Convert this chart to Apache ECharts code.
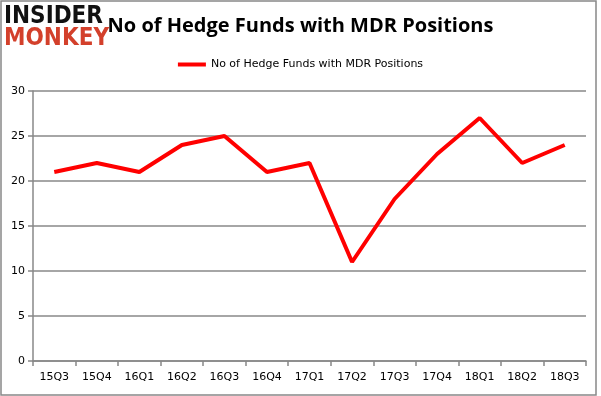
<!DOCTYPE html>
<html>
<head>
<meta charset="utf-8">
<script src="https://cdn.jsdelivr.net/npm/echarts@6/dist/echarts.min.js"></script>
<style>
  html, body { margin: 0; padding: 0; background: #fff; }
  #chart { width: 601px; height: 396px; }
</style>
</head>
<body>
<div id="chart"></div>
<script>
// data
var quarters = ['15Q3', '15Q4', '16Q1', '16Q2', '16Q3', '16Q4', '17Q1', '17Q2', '17Q3', '17Q4', '18Q1', '18Q2', '18Q3'];
var fundCounts = [21, 22, 21, 24, 25, 21, 22, 11, 18, 23, 27, 22, 24];
var seriesName = 'No of Hedge Funds with MDR Positions';

var chart = echarts.init(document.getElementById('chart'));

var option = {
  animation: false,
  title: {
    text: 'No of Hedge Funds with MDR Positions',
    left: 'center',
    top: 11,
    textStyle: {
      fontFamily: 'Open Sans',
      fontWeight: 'bold',
      fontSize: 20,
      color: '#000'
    }
  },
  legend: {
    data: [seriesName],
    top: 54,
    left: 'center',
    itemWidth: 28,
    itemHeight: 4,
    icon: 'rect',
    itemGap: 4,
    textStyle: {
      fontFamily: 'DejaVu Sans',
      fontSize: 11,
      color: '#000'
    }
  },
  graphic: [
    {
      // outer frame
      type: 'rect',
      shape: { x: 1, y: 1, width: 595, height: 394 },
      style: { fill: 'none', stroke: '#888', lineWidth: 1.5 }
    },
    {
      type: 'text',
      left: 4,
      top: 5,
      style: {
        text: 'INSIDER',
        font: 'bold 24px "DejaVu Sans Condensed"',
        fill: '#111'
      }
    },
    {
      type: 'text',
      left: 4,
      top: 27,
      style: {
        text: 'MONKEY',
        font: 'bold 24px "DejaVu Sans Condensed"',
        fill: '#d3402b'
      }
    }
  ],
  grid: {
    left: 33,
    right: 15,
    top: 91,
    bottom: 35
  },
  xAxis: {
    type: 'category',
    data: quarters,
    boundaryGap: true,
    axisLine: { lineStyle: { color: '#888', width: 1.5 } },
    axisTick: { show: true, length: 5, lineStyle: { color: '#888', width: 1.5 } },
    axisLabel: {
      fontFamily: 'DejaVu Sans',
      fontSize: 11,
      color: '#000',
      margin: 11
    }
  },
  yAxis: {
    type: 'value',
    min: 0,
    max: 30,
    interval: 5,
    axisLine: { show: true, lineStyle: { color: '#888', width: 1.5 } },
    axisTick: { show: true, length: 5, lineStyle: { color: '#888', width: 1.5 } },
    axisLabel: {
      fontFamily: 'DejaVu Sans',
      fontSize: 11,
      color: '#000',
      margin: 8
    },
    splitLine: { lineStyle: { color: '#888', width: 1.5 } }
  },
  series: [
    {
      name: seriesName,
      type: 'line',
      data: fundCounts,
      symbol: 'none',
      lineStyle: { color: '#ff0000', width: 4 },
      itemStyle: { color: '#ff0000' }
    }
  ]
};

chart.setOption(option);
</script>
</body>
</html>
